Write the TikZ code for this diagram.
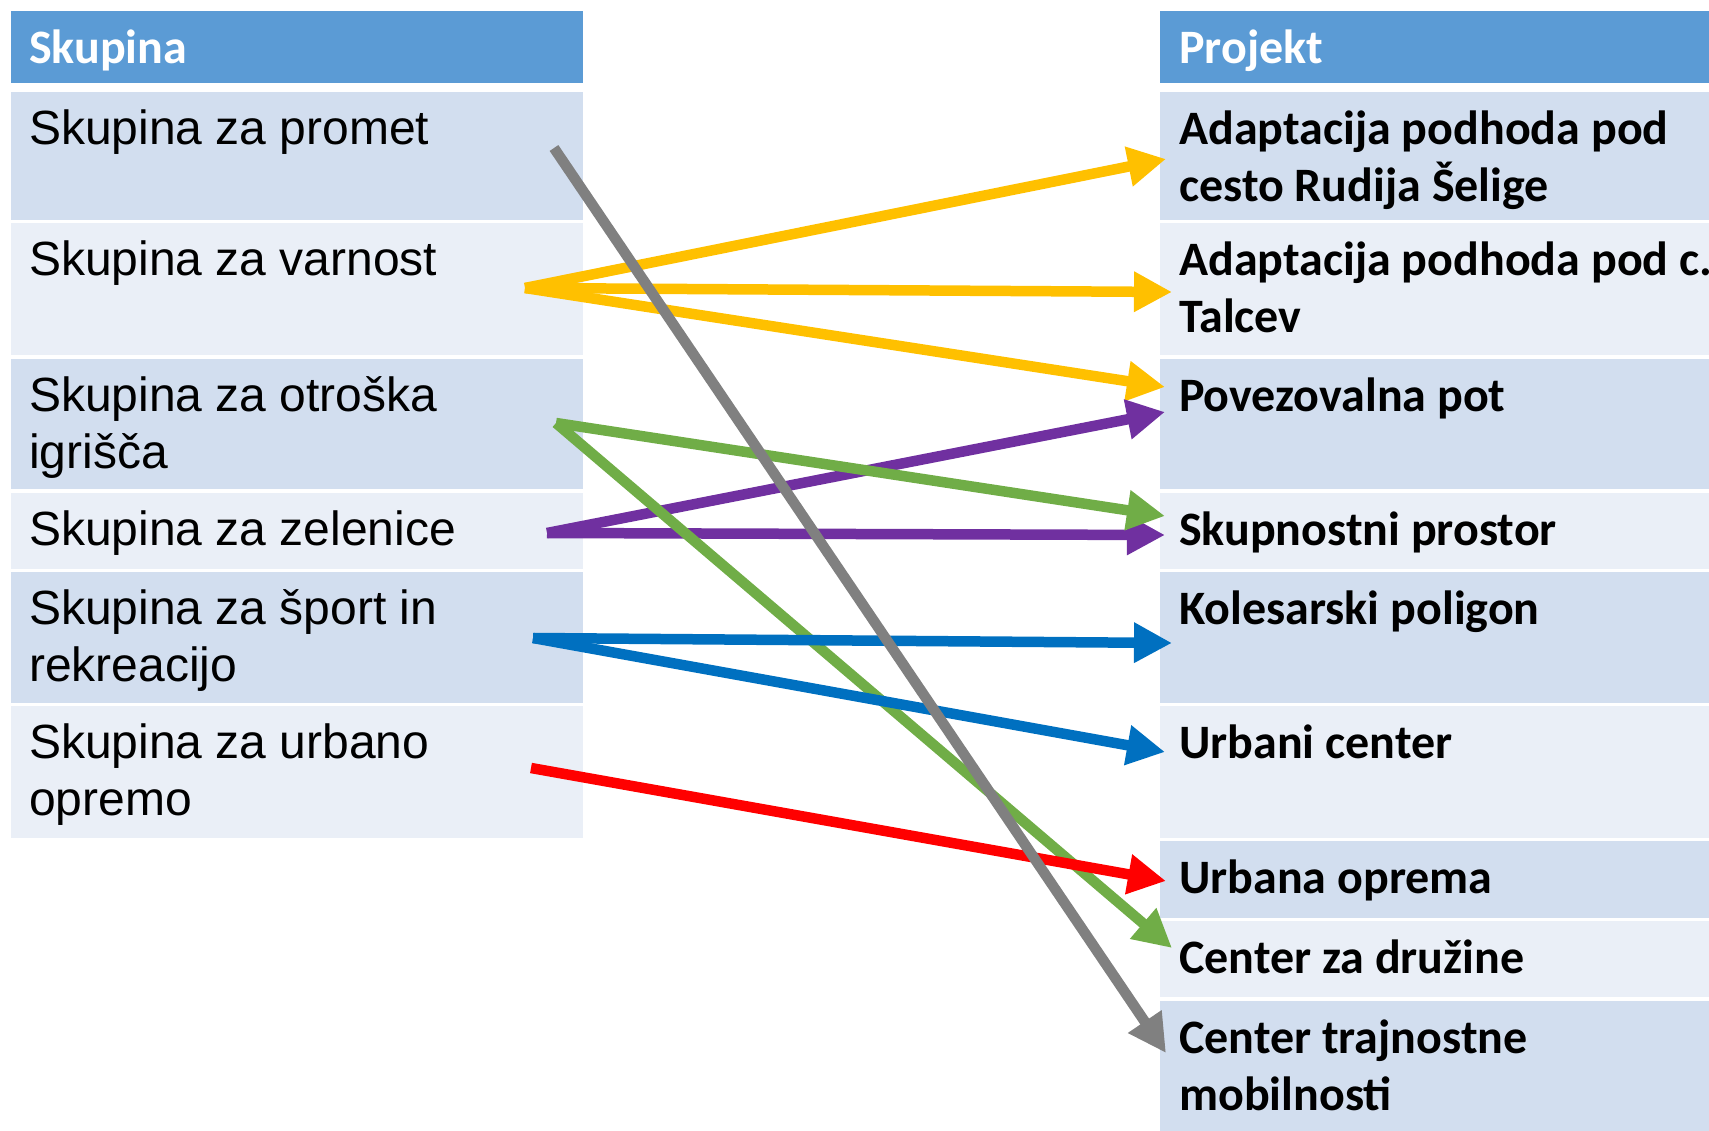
\documentclass[tikz,border=0pt]{standalone}
\usepackage{fontspec}
\setmainfont{Liberation Sans}
\newfontfamily\calibrifont{Carlito}
\usetikzlibrary{arrows.meta}
\definecolor{hdrblue}{HTML}{5B9BD5}
\definecolor{rowdark}{HTML}{D2DEEF}
\definecolor{rowlight}{HTML}{EAEFF7}
\definecolor{cyellow}{HTML}{FFC000}
\definecolor{cgray}{HTML}{808080}
\definecolor{cgreen}{HTML}{70AD47}
\definecolor{cpurple}{HTML}{7030A0}
\definecolor{cblue}{HTML}{0070C0}
\definecolor{cred}{HTML}{FF0000}
\begin{document}
\begin{tikzpicture}[x=1pt,y=-1pt,
  cellbox/.style={anchor=north west, inner sep=0, outer sep=0, draw=none},
  hdrcell/.style={cellbox, fill=hdrblue},
  darkcell/.style={cellbox, fill=rowdark},
  lightcell/.style={cellbox, fill=rowlight},
  ltext/.style={anchor=north west, inner sep=0, align=left, font=\fontsize{48}{57}\selectfont},
  rtext/.style={anchor=north west, inner sep=0, align=left, font=\calibrifont\bfseries\fontsize{48}{57}\selectfont},
  htext/.style={rtext, text=white},
  conn/.style={line width=10.5pt, -{Triangle[length=38pt,width=38pt]}}
]
\useasboundingbox (0,0) rectangle (1709,1131);
\clip (0,0) rectangle (1709,1131);

% left column cells
\node[hdrcell, minimum width=572pt, minimum height=72pt] (LH) at (11,11) {};
\node[darkcell, minimum width=572pt, minimum height=128pt] (L1) at (11,92) {};
\node[lightcell, minimum width=572pt, minimum height=132pt] (L2) at (11,223) {};
\node[darkcell, minimum width=572pt, minimum height=130pt] (L3) at (11,359) {};
\node[lightcell, minimum width=572pt, minimum height=76pt] (L4) at (11,493) {};
\node[darkcell, minimum width=572pt, minimum height=131pt] (L5) at (11,572) {};
\node[lightcell, minimum width=572pt, minimum height=132pt] (L6) at (11,706) {};

% right column cells
\node[hdrcell, minimum width=560pt, minimum height=72pt] (RH) at (1160,11) {};
\node[darkcell, minimum width=560pt, minimum height=128pt] (R1) at (1160,92) {};
\node[lightcell, minimum width=560pt, minimum height=132pt] (R2) at (1160,223) {};
\node[darkcell, minimum width=560pt, minimum height=130pt] (R3) at (1160,359) {};
\node[lightcell, minimum width=560pt, minimum height=76pt] (R4) at (1160,493) {};
\node[darkcell, minimum width=560pt, minimum height=131pt] (R5) at (1160,572) {};
\node[lightcell, minimum width=560pt, minimum height=132pt] (R6) at (1160,706) {};
\node[darkcell, minimum width=560pt, minimum height=77pt] (R7) at (1160,841) {};
\node[lightcell, minimum width=560pt, minimum height=76pt] (R8) at (1160,921) {};
\node[darkcell, minimum width=560pt, minimum height=140pt] (R9) at (1160,1001) {};

% texts
\node[htext] (LHt) at ([xshift=18pt,yshift=-12pt]LH.north west) {\strut Skupina};
\node[ltext] (L1t) at ([xshift=18pt,yshift=-12pt]L1.north west) {\strut Skupina za promet};
\node[ltext] (L2t) at ([xshift=18pt,yshift=-12pt]L2.north west) {\strut Skupina za varnost};
\node[ltext] (L3t) at ([xshift=18pt,yshift=-12pt]L3.north west) {\strut Skupina za otroška\\igrišča};
\node[ltext] (L4t) at ([xshift=18pt,yshift=-12pt]L4.north west) {\strut Skupina za zelenice};
\node[ltext] (L5t) at ([xshift=18pt,yshift=-12pt]L5.north west) {\strut Skupina za šport in\\rekreacijo};
\node[ltext] (L6t) at ([xshift=18pt,yshift=-12pt]L6.north west) {\strut Skupina za urbano\\opremo};

\node[htext] (RHt) at ([xshift=19pt,yshift=-12pt]RH.north west) {\strut Projekt};
\node[rtext] (R1t) at ([xshift=19pt,yshift=-12pt]R1.north west) {\strut Adaptacija podhoda pod\\cesto Rudija Šelige};
\node[rtext] (R2t) at ([xshift=19pt,yshift=-12pt]R2.north west) {\strut Adaptacija podhoda pod c.\\Talcev};
\node[rtext] (R3t) at ([xshift=19pt,yshift=-12pt]R3.north west) {\strut Povezovalna pot};
\node[rtext] (R4t) at ([xshift=19pt,yshift=-12pt]R4.north west) {\strut Skupnostni prostor};
\node[rtext] (R5t) at ([xshift=19pt,yshift=-12pt]R5.north west) {\strut Kolesarski poligon};
\node[rtext] (R6t) at ([xshift=19pt,yshift=-12pt]R6.north west) {\strut Urbani center};
\node[rtext] (R7t) at ([xshift=19pt,yshift=-12pt]R7.north west) {\strut Urbana oprema};
\node[rtext] (R8t) at ([xshift=19pt,yshift=-12pt]R8.north west) {\strut Center za družine};
\node[rtext] (R9t) at ([xshift=19pt,yshift=-12pt]R9.north west) {\strut Center trajnostne\\mobilnosti};

% connector endpoints
\coordinate (sY) at (525,288);
\coordinate (sG) at (556,423);
\coordinate (sP) at (547,533);
\coordinate (sB) at (533,638);
\coordinate (sR) at (531,768);
\coordinate (sK) at (554,148);
\coordinate (tY1) at (1166,159);
\coordinate (tY2) at (1172,292);
\coordinate (tY3) at (1165,387);
\coordinate (tP3) at (1165,412);
\coordinate (tP4) at (1165,535);
\coordinate (tG4) at (1165,516);
\coordinate (tG8) at (1172,948);
\coordinate (tB5) at (1172,643);
\coordinate (tB6) at (1165,752);
\coordinate (tR7) at (1166,881);
\coordinate (tK9) at (1166,1053);

% connectors
\draw[conn, cyellow] (sY) -- (tY1);
\draw[conn, cyellow] (sY) -- (tY2);
\draw[conn, cyellow] (sY) -- (tY3);
\draw[conn, cpurple] (sP) -- (tP3);
\draw[conn, cpurple] (sP) -- (tP4);
\draw[conn, cgreen] (sG) -- (tG4);
\draw[conn, cgreen] (sG) -- (tG8);
\draw[conn, cblue] (sB) -- (tB5);
\draw[conn, cblue] (sB) -- (tB6);
\draw[conn, cred] (sR) -- (tR7);
\draw[conn, cgray] (sK) -- (tK9);
\end{tikzpicture}
\end{document}
